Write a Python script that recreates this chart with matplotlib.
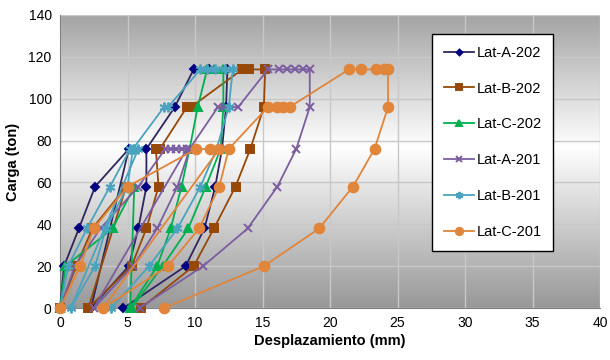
import numpy as np
import matplotlib
matplotlib.use('Agg')
import matplotlib.pyplot as plt
from matplotlib.colors import LinearSegmentedColormap

plt.rcParams['font.family'] = ['Liberation Sans', 'DejaVu Sans']

# each series: displacement (mm) and load (ton), in test order
lat_a_202_x = [0, 0.3, 1.4, 2.6, 5.1, 2.3, 5.1, 5.8, 6.4, 6.4, 8.5, 9.9, 11.0, 12.4,
               12.3, 12.0, 11.5, 10.7, 9.3, 4.7]
lat_a_202_y = [0, 20, 38, 58, 76, 0, 20, 38, 58, 76, 96, 114, 114, 114,
               96, 76, 58, 38, 20, 0]

lat_b_202_x = [0, 1.2, 2.4, 4.9, 2.1, 5.3, 6.4, 7.3, 7.1, 7.4, 9.4, 9.7, 13.5, 14.0,
               15.2, 15.1, 14.1, 13.0, 11.4, 9.9, 6.0]
lat_b_202_y = [0, 20, 38, 58, 0, 20, 38, 58, 76, 76, 96, 96, 114, 114,
               114, 96, 76, 58, 38, 20, 0]

lat_c_202_x = [0, 0.4, 3.9, 5.5, 5.2, 7.2, 8.2, 9.0, 9.6, 10.2, 10.9, 11.4, 12.1,
               12.1, 11.9, 10.8, 9.5, 7.6, 5.3]
lat_c_202_y = [0, 20, 38, 58, 0, 20, 38, 58, 76, 96, 114, 114, 114,
               96, 76, 58, 38, 20, 0]

lat_a_201_x = [0, 1.1, 3.0, 5.8, 7.8, 8.2, 8.6, 9.0, 9.4, 2.5, 5.4, 7.2, 8.7, 9.6,
               11.7, 12.2, 13.2, 15.4, 16.2, 16.8, 17.4, 18.0, 18.5,
               18.5, 17.5, 16.1, 13.9, 10.6, 5.9]
lat_a_201_y = [0, 20, 38, 58, 76, 76, 76, 76, 76, 0, 20, 38, 58, 76,
               96, 96, 96, 114, 114, 114, 114, 114, 114,
               96, 76, 58, 38, 20, 0]

lat_b_201_x = [0, 0.6, 2.0, 3.7, 5.2, 5.5, 5.8, 0.8, 2.6, 3.4, 5.0, 5.4, 7.7, 8.0,
               10.4, 10.9, 11.5, 12.2, 12.8, 12.5, 11.6, 10.4, 8.7, 6.6, 3.8]
lat_b_201_y = [0, 20, 38, 58, 76, 76, 76, 0, 20, 38, 58, 76, 96, 96,
               114, 114, 114, 114, 114, 96, 76, 58, 38, 20, 0]

lat_c_201_x = [0, 1.5, 2.5, 5.0, 10.1, 11.1, 11.8, 3.2, 8.0, 10.3, 11.8, 12.5,
               15.4, 16.1, 16.5, 17.0, 21.4, 22.3, 23.4, 24.0, 24.3,
               24.3, 23.3, 21.7, 19.2, 15.1, 7.7]
lat_c_201_y = [0, 20, 38, 58, 76, 76, 76, 0, 20, 38, 58, 76,
               96, 96, 96, 96, 114, 114, 114, 114, 114,
               96, 76, 58, 38, 20, 0]

series = [
    ('Lat-A-202', lat_a_202_x, lat_a_202_y, '#2f2660', '#000080', 'D', 4.0),
    ('Lat-B-202', lat_b_202_x, lat_b_202_y, '#974806', '#974806', 's', 6.0),
    ('Lat-C-202', lat_c_202_x, lat_c_202_y, '#00b050', '#00b050', '^', 6.0),
    ('Lat-A-201', lat_a_201_x, lat_a_201_y, '#7b5ea0', '#7b5ea0', 'x', 6.0),
    ('Lat-B-201', lat_b_201_x, lat_b_201_y, '#4aa3bf', '#4aa3bf', (6, 2, 0), 7.0),
    ('Lat-C-201', lat_c_201_x, lat_c_201_y, '#e0853a', '#e0853a', 'o', 7.0),
]

fig = plt.figure(figsize=(6.1, 3.6), dpi=100)
ax = fig.add_axes([60 / 610, 1 - 308 / 360, 540 / 610, 293 / 360])

# gray-white-gray background of the plot area
cmap = LinearSegmentedColormap.from_list(
    'bg', [(0, '#989898'), (0.55, '#ffffff'), (1, '#a4a4a4')])
grad = np.linspace(0, 1, 256).reshape(-1, 1)
ax.imshow(grad, cmap=cmap, aspect='auto', extent=[0, 40, 0, 140],
          origin='lower', zorder=0)

for name, xs, ys, lc, mc, mk, ms in series:
    ax.plot(xs, ys, color=lc, lw=1.3, marker=mk, ms=ms, mfc=mc, mec=mc,
            mew=1.4, label=name, zorder=3, clip_on=False)

ax.set_xlim(0, 40)
ax.set_ylim(0, 140)
ax.set_xticks(np.arange(0, 41, 5))
ax.set_yticks(np.arange(0, 141, 20))
ax.grid(True, color='#c8c8c8', lw=1.0, zorder=1)
ax.set_axisbelow(True)
ax.tick_params(length=0, labelsize=10, pad=6)
for s in ['top', 'right']:
    ax.spines[s].set_visible(False)
ax.spines['left'].set_color('#808080')
ax.spines['bottom'].set_color('#808080')

ax.set_xlabel('Desplazamiento (mm)', fontsize=10.5, fontweight='bold', labelpad=3)
ax.set_ylabel('Carga (ton)', fontsize=10.5, fontweight='bold', labelpad=6)

leg = fig.legend(loc='upper left',
                 bbox_to_anchor=(432 / 610, 1 - 254 / 360, 121 / 610, 220 / 360),
                 mode='expand', fontsize=10.5, labelspacing=1.5, borderpad=0.8,
                 handlelength=2.1, handletextpad=0.15, fancybox=False,
                 framealpha=1, edgecolor='black', borderaxespad=0)
leg.get_frame().set_linewidth(1.0)
for h in leg.legend_handles:
    h.set_markersize(h.get_markersize() * 0.75)

fig.savefig('out.png', dpi=100)
